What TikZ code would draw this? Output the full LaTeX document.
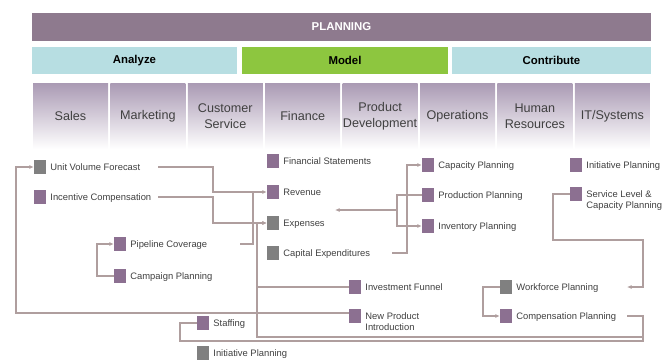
\documentclass[tikz,border=0pt]{standalone}
\usepackage{fontspec}
\setmainfont{Liberation Sans}
\usetikzlibrary{positioning,arrows.meta}
\definecolor{planc}{RGB}{142,122,142}
\definecolor{phasec}{RGB}{183,222,226}
\definecolor{modelc}{RGB}{141,198,63}
\definecolor{deptc}{RGB}{170,154,180}
\definecolor{mauve}{RGB}{140,112,145}
\definecolor{slate}{RGB}{128,128,128}
\definecolor{linkc}{RGB}{175,158,158}
\definecolor{txtc}{RGB}{64,64,64}
\begin{document}
\begin{tikzpicture}[x=1pt,y=-1pt,
    bar/.style={inner sep=0pt,minimum height=27pt,font=\bfseries\fontsize{11.4}{13}\selectfont},
    dept/.style={top color=deptc,bottom color=white,minimum width=75pt,minimum height=66pt,
        inner sep=0pt,align=center,text=txtc,font=\fontsize{12.6}{16.5}\selectfont},
    box/.style={minimum width=12pt,minimum height=14pt,inner sep=0pt},
    lbl/.style={inner sep=0pt,text=txtc,font=\fontsize{9.4}{11}\selectfont,text height=6.8pt,text depth=0pt},
    lbltwo/.style={inner sep=0pt,text=txtc,font=\fontsize{9.4}{11}\selectfont,align=left,anchor=north west},
    link/.style={draw=linkc,line width=1.3pt},
    >={Latex[length=4.5pt,width=4pt]}]
    \useasboundingbox (0,0) rectangle (662,360);
    % header
    \node[bar,fill=planc,text=white,minimum width=619pt,minimum height=28pt] (plan) at (341.5,27) {PLANNING};
    \node[bar,fill=phasec,minimum width=205pt] (analyze) at (134.5,60.5) {Analyze};
    \node[bar,fill=modelc,minimum width=206pt] (model) at (345,60.5) {Model};
    \node[bar,fill=phasec,minimum width=199pt] (contrib) at (551.5,60.5) {Contribute};
    \node[dept] (sales) at (70.5,116) {Sales};
    \node[dept] (mkt) at (147.9,116) {Marketing};
    \node[dept] (cs) at (225.3,116) {Customer\\Service};
    \node[dept] (finance) at (302.7,116) {Finance};
    \node[dept] (pd) at (380.1,116) {Product\\Development};
    \node[dept] (ops) at (457.5,116) {Operations};
    \node[dept] (hr) at (534.9,116) {Human\\Resources};
    \node[dept] (it) at (612.3,116) {IT/Systems};
    % items
    \node[box,fill=slate] (uvf) at (40,167) {};
    \node[lbl,right=4pt of uvf] (uvf-t) {Unit Volume Forecast};
    \node[box,fill=mauve] (inc) at (40,197) {};
    \node[lbl,right=4pt of inc] (inc-t) {Incentive Compensation};
    \node[box,fill=mauve] (pip) at (120,244) {};
    \node[lbl,right=4pt of pip] (pip-t) {Pipeline Coverage};
    \node[box,fill=mauve] (cmp) at (120,276) {};
    \node[lbl,right=4pt of cmp] (cmp-t) {Campaign Planning};
    \node[box,fill=mauve] (fin) at (273,161) {};
    \node[lbl,right=4pt of fin] (fin-t) {Financial Statements};
    \node[box,fill=mauve] (rev) at (273,192) {};
    \node[lbl,right=4pt of rev] (rev-t) {Revenue};
    \node[box,fill=slate] (exp) at (273,223) {};
    \node[lbl,right=4pt of exp] (exp-t) {Expenses};
    \node[box,fill=slate] (cap) at (273,253) {};
    \node[lbl,right=4pt of cap] (cap-t) {Capital Expenditures};
    \node[box,fill=mauve] (inv) at (355,287) {};
    \node[lbl,right=4pt of inv] (inv-t) {Investment Funnel};
    \node[box,fill=mauve] (npi) at (355,316) {};
    \node[lbltwo] (npi-t) at ([xshift=4pt,yshift=-3.5pt]npi.north east) {New Product\\Introduction};
    \node[box,fill=mauve] (stf) at (203,323) {};
    \node[lbl,right=4pt of stf] (stf-t) {Staffing};
    \node[box,fill=slate] (ini) at (203,353) {};
    \node[lbl,right=4pt of ini] (ini-t) {Initiative Planning};
    \node[box,fill=mauve] (cpl) at (428,165) {};
    \node[lbl,right=4pt of cpl] (cpl-t) {Capacity Planning};
    \node[box,fill=mauve] (prd) at (428,195) {};
    \node[lbl,right=4pt of prd] (prd-t) {Production Planning};
    \node[box,fill=mauve] (ivp) at (428,226) {};
    \node[lbl,right=4pt of ivp] (ivp-t) {Inventory Planning};
    \node[box,fill=mauve] (inr) at (576,165) {};
    \node[lbl,right=4pt of inr] (inr-t) {Initiative Planning};
    \node[box,fill=mauve] (slc) at (576,194) {};
    \node[lbltwo] (slc-t) at ([xshift=4pt,yshift=-3.5pt]slc.north east) {Service Level \&\\Capacity Planning};
    \node[box,fill=slate] (wfp) at (506,287) {};
    \node[lbl,right=4pt of wfp] (wfp-t) {Workforce Planning};
    \node[box,fill=mauve] (cpp) at (506,316) {};
    \node[lbl,right=4pt of cpp] (cpp-t) {Compensation Planning};
    % rails
    \coordinate (xl) at (16,0);
    \coordinate (xa) at (158,0);
    \coordinate (xb) at (213,0);
    \coordinate (xc) at (97,0);
    \coordinate (xd) at (253,0);
    \coordinate (xe) at (240,0);
    \coordinate (xf) at (257,0);
    \coordinate (xg) at (180,0);
    \coordinate (xh) at (407,0);
    \coordinate (xi) at (392,0);
    \coordinate (xj) at (397,0);
    \coordinate (xk) at (553,0);
    \coordinate (xm) at (643,0);
    \coordinate (xn) at (483,0);
    \coordinate (xq) at (627,0);
    \coordinate (yp) at (335,210);
    \coordinate (ys) at (0,240);
    \coordinate (yb) at (0,337);
    \coordinate (yc) at (0,341);
    % connectors
    \draw[link,->] (uvf -| xa) -| (rev -| xb) -- (rev);
    \draw[link,->] (inc -| xa) -| (exp -| xb) -- (exp);
    \draw[link] (pip -| xe) -| (rev -| xd);
    \draw[link,->] (cmp.west) -| (pip -| xc) -- (pip);
    \draw[link,->] ([yshift=3pt]npi.west) -| (uvf -| xl) -- (uvf);
    \draw[link,->] (xm |- yb) -| (exp -| xf) -- (exp);
    \draw[link] (inv -| xf) -- (inv);
    \draw[link] (cpp -| xq) -| (xm |- yc) -| (stf -| xg) -- (stf);
    \draw[link,->] (cap -| xi) -| (cpl -| xh) -- (cpl);
    \draw[link,->] (prd.west) -| (ivp -| xj) -- (ivp);
    \draw[link,->] (yp -| xj) -- (yp);
    \draw[link,->] (slc.west) -| (xk |- ys) -| (wfp -| xm) -- (wfp -| xq);
    \draw[link,->] (wfp.west) -| (cpp -| xn) -- (cpp);
\end{tikzpicture}
\end{document}
